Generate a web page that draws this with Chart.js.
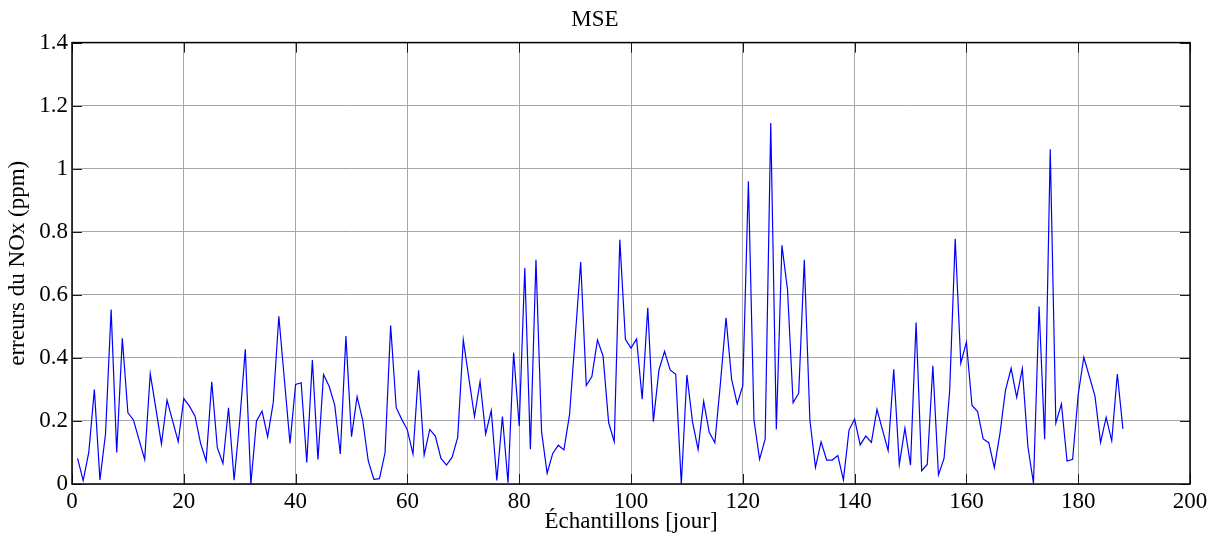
<!DOCTYPE html>
<html>
<head>
<meta charset="utf-8">
<title>MSE</title>
<script src="https://cdn.jsdelivr.net/npm/chart.js@4.4.0/dist/chart.umd.min.js"></script>
<style>
	html, body { margin: 0; padding: 0; background: #fff; }
	#wrap { width: 1224px; height: 538px; }
</style>
</head>
<body>
<div id="wrap"><canvas id="chart-mse" width="1224" height="538"></canvas></div>
<script>
// Axis ticks
const xTicks = [0, 20, 40, 60, 80, 100, 120, 140, 160, 180, 200];
const yTicks = [0, 0.2, 0.4, 0.6, 0.8, 1, 1.2, 1.4];
const yTickLabels = ["0", "0.2", "0.4", "0.6", "0.8", "1", "1.2", "1.4"];

// Daily MSE of the NOx prediction (ppm), samples 1..188
const mse = [
	0.081, 0.011, 0.10, 0.30, 0.013, 0.16, 0.553, 0.10, 0.462, 0.226,
	0.203, 0.14, 0.078, 0.35, 0.24, 0.127, 0.266, 0.20, 0.134, 0.271,
	0.247, 0.216, 0.129, 0.073, 0.324, 0.115, 0.065, 0.242, 0.012, 0.20,
	0.427, 0.0, 0.2, 0.231, 0.15, 0.258, 0.532, 0.33, 0.129, 0.316,
	0.321, 0.068, 0.393, 0.078, 0.347, 0.31, 0.25, 0.095, 0.469, 0.15,
	0.277, 0.203, 0.073, 0.015, 0.017, 0.099, 0.503, 0.242, 0.205, 0.171,
	0.095, 0.361, 0.092, 0.173, 0.152, 0.081, 0.06, 0.085, 0.148, 0.457,
	0.335, 0.214, 0.325, 0.159, 0.233, 0.011, 0.214, 0.004, 0.417, 0.184,
	0.685, 0.11, 0.711, 0.166, 0.034, 0.097, 0.123, 0.108, 0.219, 0.46,
	0.704, 0.312, 0.341, 0.457, 0.406, 0.195, 0.134, 0.775, 0.459, 0.431,
	0.46, 0.269, 0.559, 0.198, 0.362, 0.421, 0.362, 0.348, 0.0, 0.346,
	0.198, 0.11, 0.262, 0.164, 0.131, 0.32, 0.527, 0.332, 0.254, 0.312,
	0.96, 0.203, 0.078, 0.142, 1.145, 0.174, 0.757, 0.616, 0.258, 0.288,
	0.711, 0.203, 0.053, 0.134, 0.076, 0.076, 0.09, 0.013, 0.171, 0.206,
	0.124, 0.152, 0.132, 0.237, 0.171, 0.106, 0.364, 0.062, 0.177, 0.06,
	0.512, 0.042, 0.062, 0.375, 0.029, 0.081, 0.293, 0.778, 0.383, 0.45,
	0.249, 0.23, 0.143, 0.131, 0.052, 0.16, 0.298, 0.367, 0.275, 0.366,
	0.119, 0.002, 0.563, 0.142, 1.062, 0.193, 0.254, 0.073, 0.078, 0.283,
	0.402, 0.341, 0.279, 0.132, 0.211, 0.137, 0.349, 0.175,
];
const days = mse.map((_, i) => i + 1);

const FONT = "\"Liberation Serif\", \"Times New Roman\", serif";
const GRID_COLOR = "#a6a6a6";

// Black box round the plot with short inward ticks on every side
const boxTicks = {
	id: "boxTicks",
	afterDatasetsDraw(chart) {
		const { ctx, chartArea: a, scales } = chart;
		const len = 10;
		ctx.save();
		ctx.strokeStyle = "#1a1a1a";
		ctx.lineWidth = 1;
		ctx.beginPath();
		xTicks.forEach((v) => {
			const px = Math.round(scales.x.getPixelForValue(v)) + 0.5;
			ctx.moveTo(px, a.bottom);
			ctx.lineTo(px, a.bottom - len);
			ctx.moveTo(px, a.top);
			ctx.lineTo(px, a.top + len);
		});
		yTicks.forEach((v) => {
			const py = Math.round(scales.y.getPixelForValue(v)) + 0.5;
			ctx.moveTo(a.left, py);
			ctx.lineTo(a.left + len, py);
			ctx.moveTo(a.right, py);
			ctx.lineTo(a.right - len, py);
		});
		ctx.stroke();
		ctx.strokeStyle = "#000";
		ctx.lineWidth = 1.5;
		ctx.strokeRect(a.left, a.top, a.right - a.left, a.bottom - a.top);
		ctx.restore();
	},
};

const CHART_DATA = {
	datasets: [
		{
			label: "MSE",
			data: days.map((d, i) => ({ x: d, y: mse[i] })),
			borderColor: "#0000ff",
			borderWidth: 1.2,
			pointRadius: 0,
			tension: 0,
			fill: false,
		},
	],
};

const CHART_CONFIG = {
	type: "line",
	data: CHART_DATA,
	plugins: [boxTicks],
	options: {
		responsive: false,
		animation: false,
		layout: {
			padding: { top: 0, right: 34, bottom: 0, left: 0 },
		},
		scales: {
			x: {
				type: "linear",
				min: 0,
				max: 200,
				afterBuildTicks: (scale) => {
					scale.ticks = xTicks.map((v) => ({ value: v }));
				},
				afterFit: (scale) => {
					scale.height = 54;
				},
				border: { display: false },
				grid: { color: GRID_COLOR, lineWidth: 1, drawTicks: false },
				ticks: {
					color: "#000",
					font: { family: FONT, size: 23 },
					padding: 4,
					maxRotation: 0,
					autoSkip: false,
				},
				title: {
					display: true,
					text: "Échantillons [jour]",
					color: "#000",
					font: { family: FONT, size: 23 },
					padding: { top: 0, bottom: 2 },
				},
			},
			y: {
				min: 0,
				max: 1.4,
				afterBuildTicks: (scale) => {
					scale.ticks = yTicks.map((v) => ({ value: v }));
				},
				afterFit: (scale) => {
					scale.width = 72;
				},
				border: { display: false },
				grid: { color: GRID_COLOR, lineWidth: 1, drawTicks: false },
				ticks: {
					color: "#000",
					font: { family: FONT, size: 23 },
					padding: 4,
					autoSkip: false,
					callback: (value, index) => yTickLabels[index],
				},
				title: {
					display: true,
					text: "erreurs du NOx (ppm)",
					color: "#000",
					font: { family: FONT, size: 23 },
					padding: { top: 4, bottom: 0 },
				},
			},
		},
		plugins: {
			legend: { display: false },
			tooltip: { enabled: false },
			title: {
				display: true,
				text: "MSE",
				color: "#000",
				font: { family: FONT, size: 23, weight: "normal" },
				padding: { top: 6, bottom: 9 },
			},
		},
	},
};

new Chart(document.getElementById("chart-mse"), CHART_CONFIG);
</script>
</body>
</html>
